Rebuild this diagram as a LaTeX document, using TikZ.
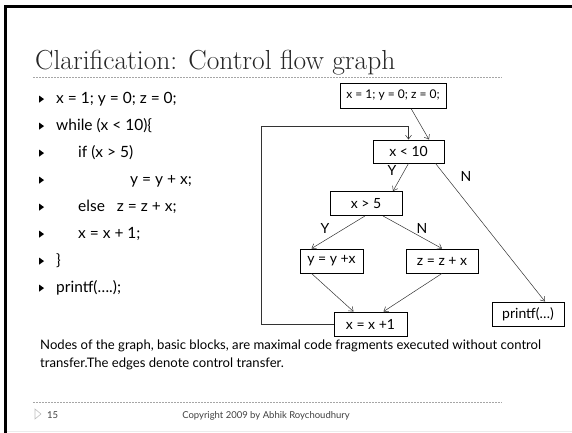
\documentclass[tikz,border=0pt]{standalone}
\usepackage{fontspec}
\newfontfamily\gill{Lato}
\usetikzlibrary{arrows.meta}
\newcommand{\bul}{\tikz[baseline=0pt]\fill (0,0.4pt)--(0,7.4pt)--(4.8pt,3.9pt)--cycle;}

\begin{document}
\begin{tikzpicture}[x=1pt,y=-1pt,
  blk/.style={draw,line width=0.9pt,inner sep=0pt,minimum height=24pt,font=\gill\fontsize{14}{16}\selectfont},
  edge/.style={-{Straight Barb[length=4pt,width=6pt]},line width=0.5pt,black!80},
  lab/.style={font=\gill\fontsize{14}{16}\selectfont},
  code/.style={anchor=base west,font=\gill\fontsize{15.5}{18}\selectfont,inner sep=0pt},
  rule/.style={gray!70,line width=0.7pt,dash pattern=on 2pt off 1pt}]
\useasboundingbox (0,0) rectangle (572,433);
% slide frame
\draw[line width=3pt] (5.5,433) -- (5.5,6.5) -- (572,6.5);
\draw[gray!15,line width=1.5pt] (7,431.5) -- (572,431.5);
\node[anchor=base west,inner sep=0pt,font=\fontsize{27.5}{30}\selectfont,black!85] (title) at (35,70) {Clarification: Control flow graph};
\draw[rule] (33,77.5) -- (502,77.5);
% code on the left
\foreach \i/\x/\txt in {0/56/{x = 1; y = 0; z = 0;},1/56/{while (x < 10)\{},2/78/{if (x > 5)},
                        3/130/{y = y + x;},4/78/{else\hspace{12pt}z = z + x;},5/78/{x = x + 1;},
                        6/56/{\}},7/56/{printf(….);}} {
  \node[code] (code\i) at (\x,{103+27*\i}) {\txt};
  \node[code] (bul\i) at (39,{103+27*\i}) {\bul};
}
% control flow graph
\node[blk,minimum width=106pt,minimum height=25pt,font=\gill\fontsize{12}{14}\selectfont] (init) at (393,95.5) {x = 1; y = 0; z = 0;};
\node[blk,minimum width=71pt,minimum height=23pt] (cond) at (408.5,151.5) {x < 10};
\node[blk,minimum width=72pt] (test) at (366,203.5) {x > 5};
\node[blk,minimum width=63pt] (thenb) at (331.5,261) {y = y +x};
\node[blk,minimum width=72pt] (elseb) at (442,261) {z = z + x};
\node[blk,minimum width=73pt] (incr) at (370.5,324) {x = x +1};
\node[blk,minimum width=72pt] (prnt) at (528,314) {printf(…)};
\coordinate (back) at (261,126);
\draw[edge] ([xshift=18pt]init.south) -- ([xshift=20.5pt]cond.north);
\draw[edge] (incr.west) -| (back) -| (cond.north);
\draw[edge] (cond.south) -- ([xshift=27pt]test.north);
\draw[edge] ([xshift=27pt]cond.south) -- ([xshift=17pt]prnt.north);
\draw[edge] ([xshift=-1pt]test.south) -- ([xshift=-20pt]thenb.north);
\draw[edge] ([xshift=17pt]test.south) -- (elseb.north);
\draw[edge] ([xshift=-20pt]thenb.south) -- ([xshift=-17pt]incr.north);
\draw[edge] (elseb.south) -- ([xshift=13pt]incr.north);
\node[lab] (y1) at (392,170) {Y};
\node[lab] (n1) at (466,176) {N};
\node[lab] (y2) at (325,228) {Y};
\node[lab] (n2) at (422,228) {N};
% note and footer
\node[anchor=base west,inner sep=0pt,align=left,font=\gill\fontsize{13.1}{18}\selectfont] (note) at (40,367)
  {Nodes of the graph, basic blocks, are maximal code fragments executed without control\\transfer.The edges denote control transfer.};
\draw[rule] (33,402.5) -- (502,402.5);
\draw[gray!50,line width=0.6pt] (35,409) -- (41,414) -- (35,419) -- cycle;
\node[anchor=base west,inner sep=0pt,font=\gill\fontsize{9.5}{11}\selectfont,black!75] (pg) at (47,418) {15};
\node[anchor=base,inner sep=0pt,font=\gill\fontsize{9.5}{11}\selectfont,black!75] (copy) at (266,418) {Copyright 2009 by Abhik Roychoudhury};
\end{tikzpicture}
\end{document}
